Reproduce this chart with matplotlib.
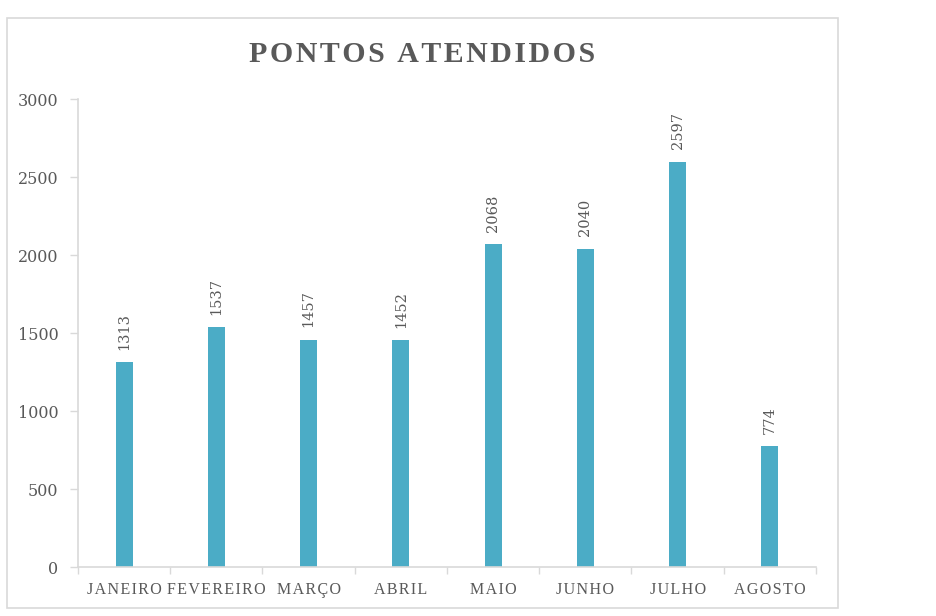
import matplotlib.pyplot as plt
from matplotlib.patches import Rectangle

meses = ["JANEIRO", "FEVEREIRO", "MARÇO", "ABRIL", "MAIO", "JUNHO", "JULHO", "AGOSTO"]
pontos = [1313, 1537, 1457, 1452, 2068, 2040, 2597, 774]
y_ticks = [0, 500, 1000, 1500, 2000, 2500, 3000]

cor_barra = "#4BACC6"
cor_texto = "#595959"
cor_linha = "#D9D9D9"
fonte_num = ["DejaVu Serif"]
fonte_txt = ["Liberation Serif", "DejaVu Serif"]


def espacar(txt, sep="\u200a"):
    # imita o espaçamento entre letras do original
    return sep.join(txt)


fig = plt.figure(figsize=(9.37, 6.16), dpi=100)
fig.patches.append(Rectangle((7 / 937, 1 - 608 / 616), (838 - 7) / 937, (608 - 18) / 616,
                             transform=fig.transFigure, fill=False,
                             edgecolor=cor_linha, linewidth=1.2))

ax = fig.add_axes([78 / 937, 1 - 567 / 616, (816 - 78) / 937, (567 - 99) / 616])

x = list(range(len(meses)))
barras = ax.bar(x, pontos, width=0.185, color=cor_barra, zorder=2)

for xi, v in zip(x, pontos):
    ax.annotate(str(v), (xi, v), xytext=(0, 9), textcoords="offset points",
                rotation=90, ha="center", va="bottom", fontsize=10.5,
                color=cor_texto, family=fonte_num)

ax.set_xlim(-0.5, len(meses) - 0.5)
ax.set_ylim(0, 3000)
ax.set_yticks(y_ticks)
ax.set_xticks(x)
ax.set_xticklabels([espacar(m) for m in meses], family=fonte_txt, fontsize=11.5, color=cor_texto)
ax.set_xticks([i - 0.5 for i in range(len(meses) + 1)], minor=True)
for lab in ax.get_yticklabels():
    lab.set_family(fonte_num)
ax.tick_params(axis="y", labelsize=11.5, labelcolor=cor_texto, color=cor_linha,
               length=6, width=1, pad=8)
ax.tick_params(axis="x", which="major", length=0, pad=11)
ax.tick_params(axis="x", which="minor", length=5, color=cor_linha, width=1)

for lado in ["top", "right"]:
    ax.spines[lado].set_visible(False)
for lado in ["left", "bottom"]:
    ax.spines[lado].set_color(cor_linha)
    ax.spines[lado].set_linewidth(1.2)

fig.text(422 / 937, 1 - 54 / 616, espacar("PONTOS ATENDIDOS"), ha="center", va="center",
         fontsize=21.5, fontweight="bold", color=cor_texto, family=fonte_txt)

fig.savefig("out.png", dpi=100, facecolor="white")
